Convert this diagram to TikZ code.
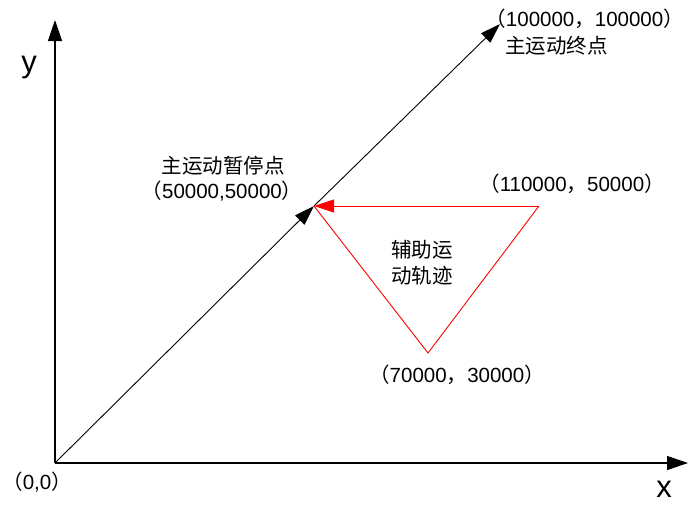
\documentclass[tikz,border=0pt]{standalone}
\usepackage{fontspec}
\setmainfont{Liberation Sans}
\newfontfamily\cjk{Noto Sans CJK SC}
\usetikzlibrary{arrows.meta}
\tikzset{
  axis/.style={line width=1.3pt,-{Triangle[length=21pt,width=14pt]}},
  mainline/.style={line width=0.9pt,-{Triangle[length=20pt,width=13pt]}},
  redline/.style={red,line width=0.9pt},
  redarrow/.style={red,line width=0.9pt,-{Triangle[length=20pt,width=13pt]}},
  lbl/.style={inner sep=0pt,font=\fontsize{20.5}{24}\selectfont},
  axlbl/.style={inner sep=0pt,font=\fontsize{31}{33}\selectfont},
}
\begin{document}
\begin{tikzpicture}[x=1pt,y=-1pt]
\useasboundingbox (0,0) rectangle (688,504);
\coordinate (O) at (55,463);
\coordinate (Ytop) at (55,20);
\coordinate (Xend) at (688,463);
\coordinate (P) at (314,206);
\coordinate (E) at (500,24);
\coordinate (R) at (539,206);
\coordinate (B) at (428,353);
\draw[axis] (O) -- (Ytop);
\draw[axis] (O) -- (Xend);
\draw[mainline] (O) -- (P);
\draw[mainline] (P) -- (E);
\draw[redarrow] (R) -- (P);
\draw[redline] (P) -- (B) -- (R);
\node[axlbl] (ylab) at (29,68) {y};
\node[axlbl] (xlab) at (664,489) {x};
\node[lbl] (o) at (37,482) {{\cjk （}0,0{\cjk ）}};
\node[lbl,anchor=east] (e1) at (684,19) {{\cjk （}100000{\cjk ，}100000{\cjk ）}};
\node[lbl,anchor=west] (e2) at (505,46) {\cjk 主运动终点};
\node[lbl] (p1) at (223,166) {\cjk 主运动暂停点};
\node[lbl] (p2) at (222,191) {{\cjk （}50000,50000{\cjk ）}};
\node[lbl] (r1) at (572,184) {{\cjk （}110000{\cjk ，}50000{\cjk ）}};
\node[lbl] (t1) at (422,250) {\cjk 辅助运};
\node[lbl] (t2) at (422,276) {\cjk 动轨迹};
\node[lbl] (b1) at (457,375) {{\cjk （}70000{\cjk ，}30000{\cjk ）}};
\end{tikzpicture}
\end{document}
